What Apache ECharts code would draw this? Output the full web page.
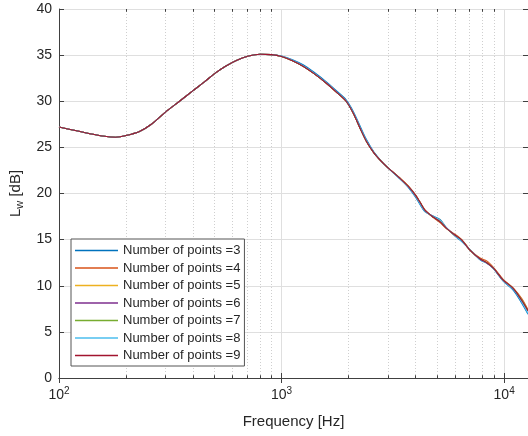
<!DOCTYPE html>
<html>
<head>
<meta charset="utf-8">
<script src="https://cdn.jsdelivr.net/npm/echarts@6/dist/echarts.min.js"></script>
<style>
html,body{margin:0;padding:0;background:#fff;}
#chart{width:528px;height:436px;}
</style>
</head>
<body>
<div id="chart"></div>
<script>
// Frequencies [Hz]
var freqs = [100,120,140,160,180,200,230,260,300,350,400,450,500,560,630,710,800,900,1000,1120,1250,1400,1600,1800,1950,2100,2250,2400,2600,2800,3000,3400,3700,4000,4200,4400,4800,5150,5500,6000,6450,7000,7800,8350,8950,9900,11000,12000,12800];

// L_w [dB] for each number of points
var lw3 = [27.2,26.8,26.45,26.2,26.1,26.28,26.72,27.5,28.8,30.05,31.15,32.1,33.0,33.8,34.45,34.9,35.1,35.05,34.9,34.5,33.95,33.15,32.05,30.95,30.15,28.9,27.35,25.9,24.5,23.55,22.8,21.6,20.7,19.6,18.75,18.05,17.55,17.2,16.3,15.4,14.8,13.95,12.8,12.45,11.85,10.5,9.5,8.1,6.9];
var lw4 = [27.2,26.8,26.45,26.2,26.1,26.28,26.72,27.5,28.8,30.05,31.15,32.1,33.0,33.8,34.45,34.9,35.1,35.05,34.85,34.4,33.8,33.0,31.9,30.8,30.0,28.7,27.1,25.7,24.4,23.5,22.8,21.7,20.85,19.85,19.05,18.25,17.4,16.85,16.2,15.6,15.0,13.95,13.0,12.7,12.0,10.7,9.75,8.6,7.4];
var lw5 = [27.2,26.8,26.45,26.2,26.1,26.28,26.72,27.5,28.8,30.05,31.15,32.1,33.0,33.8,34.45,34.9,35.1,35.05,34.85,34.4,33.8,33.0,31.9,30.8,30.0,28.7,27.1,25.7,24.4,23.5,22.8,21.65,20.8,19.75,18.95,18.15,17.45,17.1,16.25,15.45,14.95,13.9,12.9,12.55,11.9,10.6,9.7,8.5,7.3];
var lw6 = [27.2,26.8,26.45,26.2,26.1,26.28,26.72,27.5,28.8,30.05,31.15,32.1,33.0,33.8,34.45,34.9,35.1,35.05,34.85,34.4,33.8,33.0,31.9,30.8,30.0,28.7,27.1,25.7,24.4,23.5,22.8,21.65,20.8,19.8,19.0,18.2,17.45,16.95,16.25,15.5,14.95,13.9,12.9,12.5,11.9,10.6,9.7,8.45,7.25];
var lw7 = [27.2,26.8,26.45,26.2,26.1,26.28,26.72,27.5,28.8,30.05,31.15,32.1,33.0,33.8,34.45,34.9,35.1,35.05,34.85,34.4,33.8,33.0,31.9,30.8,30.0,28.7,27.1,25.7,24.4,23.5,22.8,21.65,20.8,19.8,19.0,18.2,17.45,16.95,16.25,15.5,14.95,13.9,12.9,12.5,11.9,10.6,9.7,8.45,7.3];
var lw8 = [27.2,26.8,26.45,26.2,26.1,26.28,26.72,27.5,28.8,30.05,31.15,32.1,33.0,33.8,34.45,34.9,35.1,35.05,34.88,34.45,33.85,33.05,31.95,30.85,30.05,28.8,27.2,25.8,24.45,23.5,22.8,21.6,20.75,19.7,18.85,18.1,17.5,17.1,16.3,15.45,14.85,13.95,12.85,12.45,11.85,10.55,9.6,8.25,7.0];
var lw9 = [27.2,26.8,26.45,26.2,26.1,26.28,26.72,27.5,28.8,30.05,31.15,32.1,33.0,33.8,34.45,34.9,35.1,35.05,34.85,34.4,33.8,33.0,31.9,30.8,30.0,28.7,27.1,25.7,24.4,23.5,22.8,21.65,20.8,19.8,19.0,18.2,17.45,16.95,16.25,15.5,14.95,13.9,12.9,12.5,11.9,10.6,9.7,8.4,7.3];

var seriesNames = ['Number of points =3','Number of points =4','Number of points =5','Number of points =6','Number of points =7','Number of points =8','Number of points =9'];
var seriesValues = [lw3, lw4, lw5, lw6, lw7, lw8, lw9];
var seriesColors = ['#0072BD','#D95319','#EDB120','#7E2F8E','#77AC30','#4DBEEE','#A2142F'];

// minor grid positions on the log axis
var minorFreqs = [200,300,400,500,600,700,800,900,2000,3000,4000,5000,6000,7000,8000,9000];
var yTicks = [0,5,10,15,20,25,30,35,40];

var xMin = 100, xMax = 12800, yMin = 0, yMax = 40;
var FONT = "'Liberation Sans', Arial, Helvetica, sans-serif";
var axisColor = '#404040';
var textColor = '#262626';

function pairs(xs, ys){ return xs.map(function(x,i){ return [x, ys[i]]; }); }

var series = [];
// helper series carrying minor grid lines and minor ticks
series.push({
  name: '_grid',
  type: 'line',
  data: [],
  silent: true,
  z: 1,
  markLine: {
    silent: true,
    z: 1,
    symbol: 'none',
    animation: false,
    label: {show: false},
    lineStyle: {color: '#cfcfcf', type: [1,2], width: 1},
    data: minorFreqs.map(function(f){ return {xAxis: f}; })
  }
});
series.push({
  name: '_ticks',
  type: 'line',
  data: [],
  silent: true,
  z: 4,
  markLine: {
    silent: true,
    z: 4,
    symbol: 'none',
    animation: false,
    label: {show: false},
    lineStyle: {color: axisColor, type: 'solid', width: 1},
    data: minorFreqs.map(function(f){ return [{coord:[f, yMin]},{coord:[f, yMin + 0.3]}]; })
      .concat(minorFreqs.map(function(f){ return [{coord:[f, yMax]},{coord:[f, yMax - 0.3]}]; }))
  }
});
seriesValues.forEach(function(vals, i){
  series.push({
    name: seriesNames[i],
    type: 'line',
    data: pairs(freqs, vals),
    smooth: 0.3,
    showSymbol: false,
    symbol: 'none',
    z: 3,
    lineStyle: {color: seriesColors[i], width: 1.1},
    itemStyle: {color: seriesColors[i]},
    animation: false
  });
});

function logLabel(v){
  var e = Math.log10(v);
  if (Math.abs(e - Math.round(e)) > 1e-6) return '';
  return '10{sup|' + Math.round(e) + '}';
}

var chart = echarts.init(document.getElementById('chart'), null, {renderer: 'canvas'});
chart.setOption({
  backgroundColor: '#ffffff',
  animation: false,
  textStyle: {fontFamily: FONT},
  grid: {left: 59, top: 9, width: 469, height: 369, containLabel: false},
  legend: {
    data: seriesNames,
    orient: 'vertical',
    left: 71,
    top: 239,
    icon: 'rect',
    itemWidth: 43,
    itemHeight: 1.5,
    itemGap: 0.5,
    padding: [3, 4, 2, 4],
    backgroundColor: '#ffffff',
    borderColor: '#555555',
    borderWidth: 1,
    borderRadius: 0,
    selectedMode: false,
    textStyle: {fontFamily: FONT, fontSize: 13, color: textColor, lineHeight: 17}
  },
  xAxis: [{
    type: 'log',
    logBase: 10,
    min: xMin,
    max: xMax,
    interval: 1,
    name: 'Frequency [Hz]',
    nameLocation: 'middle',
    nameGap: 36,
    nameTextStyle: {fontFamily: FONT, fontSize: 15, color: textColor},
    axisLine: {show: true, lineStyle: {color: axisColor, width: 1}},
    axisTick: {show: true, inside: true, length: 5, lineStyle: {color: axisColor}},
    axisLabel: {
      show: true, margin: 8, color: textColor, fontSize: 14, fontFamily: FONT,
      formatter: logLabel,
      showMinLabel: true, showMaxLabel: false,
      rich: {sup: {fontSize: 10, fontFamily: FONT, color: textColor, padding: [0,0,9,0]}}
    },
    splitLine: {show: true, lineStyle: {color: '#dfdfdf', width: 1}},
    minorTick: {show: false},
    minorSplitLine: {show: false}
  }, {
    type: 'log',
    logBase: 10,
    min: xMin,
    max: xMax,
    interval: 1,
    position: 'top',
    axisLine: {show: true, lineStyle: {color: axisColor, width: 1}},
    axisTick: {show: true, inside: true, length: 5, lineStyle: {color: axisColor}},
    axisLabel: {show: false},
    splitLine: {show: false}
  }],
  yAxis: [{
    type: 'value',
    min: yMin,
    max: yMax,
    interval: 5,
    name: 'L{sub|w} [dB]',
    nameLocation: 'middle',
    nameGap: 34,
    nameTextStyle: {
      fontFamily: FONT, fontSize: 15, color: textColor,
      rich: {sub: {fontFamily: FONT, fontSize: 11, color: textColor, padding: [7,0,0,0]}}
    },
    axisLine: {show: true, lineStyle: {color: axisColor, width: 1}},
    axisTick: {show: true, inside: true, length: 5, lineStyle: {color: axisColor}},
    axisLabel: {show: true, margin: 7, color: textColor, fontSize: 14, fontFamily: FONT},
    splitLine: {show: true, lineStyle: {color: '#dfdfdf', width: 1}}
  }, {
    type: 'value',
    min: yMin,
    max: yMax,
    interval: 5,
    position: 'right',
    axisLine: {show: true, lineStyle: {color: axisColor, width: 1}},
    axisTick: {show: true, inside: true, length: 5, lineStyle: {color: axisColor}},
    axisLabel: {show: false},
    splitLine: {show: false}
  }],
  series: series
});
</script>
</body>
</html>
